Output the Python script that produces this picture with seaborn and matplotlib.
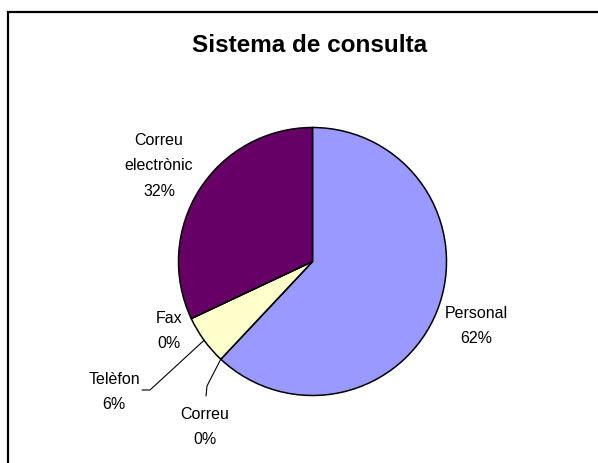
import numpy as np
import matplotlib
matplotlib.use('Agg')
import matplotlib.pyplot as plt
from matplotlib.patches import Rectangle
from matplotlib.lines import Line2D
import seaborn as sns

sns.set_theme(style="white")
plt.rcParams['font.family'] = ['Liberation Sans', 'DejaVu Sans']

# dades
categories = ['Personal', 'Correu', 'Telèfon', 'Fax', 'Correu\nelectrònic']
values = [62, 0, 6, 0, 32]
colors = ['#9999FF', '#993366', '#FFFFCC', '#CCFFFF', '#660066']
title = 'Sistema de consulta'

W, H = 598, 464
fig = plt.figure(figsize=(W / 100, H / 100), dpi=100)

def fx(px):
    return px / W

def fy(py):
    return 1 - py / H

# pie axes: centre (312.5, 262.5) px, radius 134 px
cx, cy, r = 312.5, 262.5, 134
ax = fig.add_axes([fx(cx - r), fy(cy + r), 2 * r / W, 2 * r / H])
wedges, _ = ax.pie(values, colors=colors, startangle=90, counterclock=False,
                   radius=1, wedgeprops=dict(edgecolor='black', linewidth=1.1))
ax.set_xlim(-1, 1)
ax.set_ylim(-1, 1)
ax.axis('off')

pct = [round(v / sum(values) * 100) for v in values]

# posicions de les etiquetes (px, centre del bloc)
label_pos = [(476, 326), (205, 427), (114, 392), (169, 331), (159, 166)]
for name, p, (lx, ly) in zip(categories, pct, label_pos):
    fig.text(fx(lx), fy(ly), f'{name}\n{p}%', ha='center', va='center',
             fontsize=11.5, linespacing=1.9, color='black')

# linies guia (Telèfon i Correu)
def edge_point(w, where='mid'):
    if where == 'mid':
        a = np.deg2rad((w.theta1 + w.theta2) / 2)
    else:
        a = np.deg2rad(w.theta1)
    return cx + r * np.cos(a), cy - r * np.sin(a)

leaders = {2: [(150, 391), (142, 391)], 1: [(207, 387), (206, 397)]}
for idx, pts in leaders.items():
    sx, sy = edge_point(wedges[idx], 'mid')
    xs = [sx] + [p[0] for p in pts]
    ys = [sy] + [p[1] for p in pts]
    fig.add_artist(Line2D([fx(x) for x in xs], [fy(y) for y in ys],
                          transform=fig.transFigure, color='black', lw=0.8))

fig.text(fx(310), fy(45.5), title, ha='center', va='center',
         fontsize=17.5, fontweight='bold', color='black')

# marc del grafic
fig.add_artist(Rectangle((fx(8), fy(480)), fx(600), fy(13) - fy(480),
                         transform=fig.transFigure, fill=False,
                         edgecolor='black', lw=1.6, clip_on=False))

plt.savefig('out.png', dpi=100)
plt.close()
